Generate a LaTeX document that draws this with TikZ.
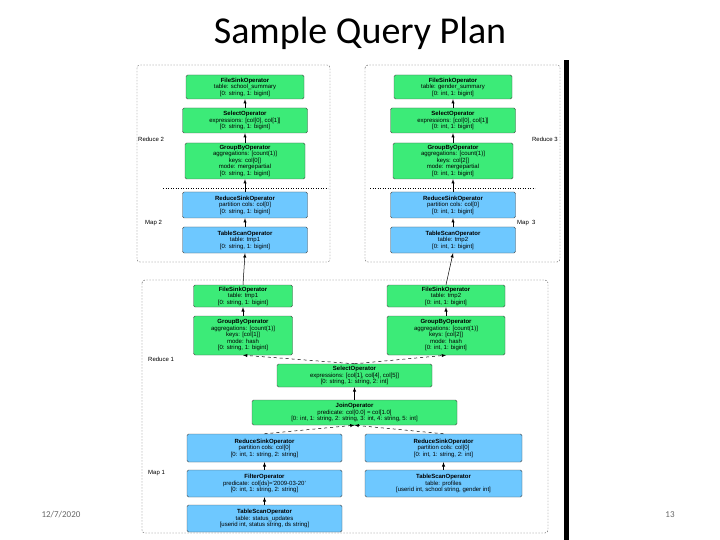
\documentclass[tikz,border=0pt]{standalone}
\usepackage{fontspec}
\setmainfont{Liberation Sans}
\newfontfamily\titlefont{Carlito}
\definecolor{opg}{RGB}{60,235,120}
\definecolor{opb}{RGB}{110,200,255}
\begin{document}
\begin{tikzpicture}[x=1pt,y=-1pt,
  op/.style={draw=black!70,rounded corners=1.5pt,inner sep=0pt,align=center,font=\fontsize{6}{6.5}\selectfont,line width=0.4pt},
  g/.style={op,fill=opg},
  b/.style={op,fill=opb},
  ar/.style={-latex,line width=0.5pt},
  dar/.style={-latex,dashed,line width=0.5pt},
  frame/.style={dash pattern=on 1.5pt off 1.5pt,line width=0.4pt,rounded corners=3pt,black!70},
  lab/.style={font=\fontsize{6}{6.5}\selectfont,inner sep=0pt}]
\useasboundingbox (0,0) rectangle (720,540);
\node (title) at (360,33) {\titlefont\fontsize{38}{42}\selectfont Sample Query Plan};
\node[anchor=west,text=black!60,font=\titlefont\fontsize{9}{10}\selectfont] (date) at (38,515) {12/7/2020};
\node[text=black!60,font=\titlefont\fontsize{9}{10}\selectfont] (pg) at (670,515) {13};
\fill (564,60) rectangle (569,540);
% frames
\draw[frame] (137,65) rectangle (330,262);
\draw[frame] (365,65) rectangle (560,262);
\draw[frame] (142,280) rectangle (548,533);
\draw[dotted,line width=0.5pt] (163,188) -- (328,188);
\draw[dotted,line width=0.5pt] (370,188) -- (535,188);
\node[lab,anchor=west] (r2) at (138,139) {Reduce 2};
\node[lab,anchor=west] (m2) at (145,223) {Map 2};
\node[lab,anchor=east] (r3) at (558,139) {Reduce 3};
\node[lab,anchor=west] (m3) at (517,223) {Map \ 3};
\node[lab,anchor=west] (r1) at (148,359) {Reduce 1};
\node[lab,anchor=west] (m1) at (148,473) {Map 1};
% left top
\node[g,minimum width=118,minimum height=24] (fs2) at (245,87) {\textbf{FileSinkOperator}\\table: school\_summary\\{[0: string, 1: bigint]}};
\node[g,minimum width=125,minimum height=25] (sel2) at (245,120.5) {\textbf{SelectOperator}\\expressions: [col[0], col[1]]\\{[0: string, 1: bigint]}};
\node[g,minimum width=120,minimum height=36] (gb2) at (245,161) {\textbf{GroupByOperator}\\aggregations: [count(1)]\\keys: col[0]]\\mode: mergepartial\\{[0: string, 1: bigint]}};
\node[b,minimum width=125,minimum height=26] (rs2) at (245,205) {\textbf{ReduceSinkOperator}\\partition cols: col[0]\\{[0: string, 1: bigint]}};
\node[b,minimum width=125,minimum height=26] (ts2) at (245,240) {\textbf{TableScanOperator}\\table: tmp1\\{[0: string, 1: bigint]}};
% right top
\node[g,minimum width=118,minimum height=24] (fs3) at (453,87) {\textbf{FileSinkOperator}\\table: gender\_summary\\{[0: int, 1: bigint]}};
\node[g,minimum width=125,minimum height=25] (sel3) at (453,120.5) {\textbf{SelectOperator}\\expressions: [col[0], col[1]]\\{[0: int, 1: bigint]}};
\node[g,minimum width=120,minimum height=36] (gb3) at (453,161) {\textbf{GroupByOperator}\\aggregations: [count(1)]\\keys: col[2]]\\mode: mergepartial\\{[0: int, 1: bigint]}};
\node[b,minimum width=125,minimum height=26] (rs3) at (453,205) {\textbf{ReduceSinkOperator}\\partition cols: col[0]\\{[0: int, 1: bigint]}};
\node[b,minimum width=125,minimum height=26] (ts3) at (453,240) {\textbf{TableScanOperator}\\table: tmp2\\{[0: int, 1: bigint]}};
% bottom
\node[g,minimum width=99,minimum height=22] (fs1) at (243,296) {\textbf{FileSinkOperator}\\table: tmp1\\{[0: string, 1: bigint]}};
\node[g,minimum width=99,minimum height=39] (gb1) at (243,335.5) {\textbf{GroupByOperator}\\aggregations: [count(1)]\\keys: [col[1]]\\mode: hash\\{[0: string, 1: bigint]}};
\node[g,minimum width=118,minimum height=22] (fsb) at (446,296) {\textbf{FileSinkOperator}\\table: tmp2\\{[0: int, 1: bigint]}};
\node[g,minimum width=118,minimum height=39] (gbb) at (446,335.5) {\textbf{GroupByOperator}\\aggregations: [count(1)]\\keys: [col[2]]\\mode: hash\\{[0: int, 1: bigint]}};
\node[g,minimum width=155,minimum height=23] (sel1) at (354.5,375.5) {\textbf{SelectOperator}\\expressions: [col[1], col[4], col[5]]\\{[0: string, 1: string, 2: int]}};
\node[g,minimum width=205,minimum height=25] (join) at (354.5,412.5) {\textbf{JoinOperator}\\predicate: col[0.0] = col[1.0]\\{[0: int, 1: string, 2: string, 3: int, 4: string, 5: int]}};
\node[b,minimum width=155,minimum height=28] (rsl) at (264.5,448) {\textbf{ReduceSinkOperator}\\partition cols: col[0]\\{[0: int, 1: string, 2: string]}};
\node[b,minimum width=157,minimum height=28] (rsr) at (443.5,448) {\textbf{ReduceSinkOperator}\\partition cols: col[0]\\{[0: int, 1: string, 2: int]}};
\node[b,minimum width=155,minimum height=27] (flt) at (264.5,483.5) {\textbf{FilterOperator}\\predicate: col[ds]='2009-03-20'\\{[0: int, 1: string, 2: string]}};
\node[b,minimum width=157,minimum height=27] (tsp) at (443.5,483.5) {\textbf{TableScanOperator}\\table: profiles\\{[userid int, school string, gender int]}};
\node[b,minimum width=155,minimum height=27] (tss) at (264.5,518.5) {\textbf{TableScanOperator}\\table: status\_updates\\{[userid int, status string, ds string]}};
% arrows
\foreach \a/\b in {sel2/fs2,gb2/sel2,rs2/gb2,ts2/rs2,sel3/fs3,gb3/sel3,rs3/gb3,ts3/rs3,gb1/fs1,gbb/fsb,join/sel1,flt/rsl,tss/flt,tsp/rsr}
  \draw[ar] (\a) -- (\b);
\draw[ar] (fs1.north) -- (ts2.south);
\draw[ar] (fsb.north) -- (ts3.south);
\draw[dar] (sel1.north) -- (gb1.south);
\draw[dar] (sel1.north) -- (gbb.south);
\draw[dar] (rsl.north) -- (join.south);
\draw[dar] (rsr.north) -- (join.south);
\end{tikzpicture}
\end{document}
